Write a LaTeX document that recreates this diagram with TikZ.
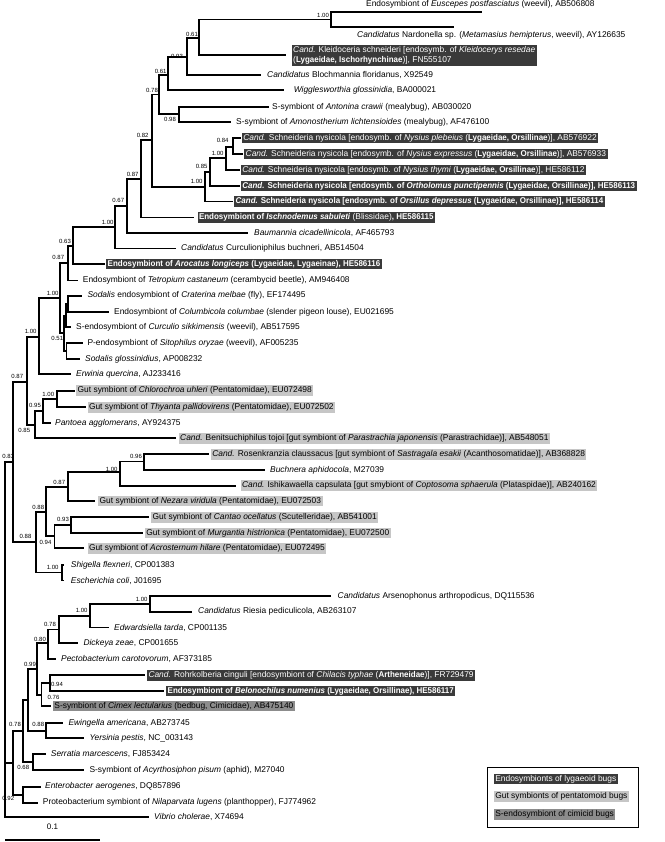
\documentclass[tikz,border=0pt]{standalone}
\usepackage{fontspec}
\setmainfont{Liberation Sans}[BoldFeatures={FakeStretch=0.95},BoldItalicFeatures={FakeStretch=0.95}]
\usetikzlibrary{positioning}
\definecolor{lygbox}{HTML}{3A3A3A}
\definecolor{gutbox}{HTML}{C6C6C6}
\definecolor{cimbox}{HTML}{8C8C8C}

\begin{document}
\begin{tikzpicture}[x=1pt,y=-1pt,
  branch/.style={line width=1.8pt,line cap=rect},
  taxon/.style={anchor=west,inner sep=0pt,font=\fontsize{8.4}{10}\selectfont},
  boxed/.style={taxon,inner xsep=1.5pt,inner ysep=1.2pt,text height=6.3pt,text depth=1.9pt},
  lyg/.style={boxed,fill=lygbox,text=white},
  gut/.style={boxed,fill=gutbox},
  cim/.style={boxed,fill=cimbox},
  supp/.style={inner sep=0pt,font=\fontsize{6}{7}\selectfont}]
  \useasboundingbox (0,0) rectangle (664,842);

  % internal nodes of the tree
  \foreach \n/\x/\y in {root/5/639, n83/13.3/461.7, n87c/27.3/381.7, nSod/39.3/336.7, nA/60/298.3,
      n87b/68.3/263, n63/72.7/246, n100c/115/227.3, n67/126.7/206, n87a/140.7/179, n82/151.7/140,
      n78/159.3/94.5, n61b/168/75, n93/186.7/57, n61a/199.3/38, n100a/331/19.5, n98/179.3/114,
      nSch/205/186.7, n85s/210/171.7, n100s/226/158, n84/232.7/147,
      nS0/64/333, nS2/66/315.7, nS1/67.8/304, nS3/66.5/351,
      n85/35/424.7, n95/43.3/411, n100p/56.7/399,
      n88b/36/542.3, n88a/46/512, n87d/68/487, n100r/120/472, n96/144.3/461.5,
      n94/54.5/536, n93p/71/525, nShE/61.7/572.5,
      nQ/12.7/762.8, n78b/23.3/731, nP/28.3/700, n99/37/669.3, n80/48.3/643.3, n78c/59.3/629.5,
      n100e/90/616, n100ar/150/604, n76/41.5/695, n94b/50/683, n88c/46/730.8, n68/33.3/762, n92/23.3/794.7}
    \coordinate (\n) at (\x,\y);

  % tips
  \foreach \n/\x/\y in {eusc/481/12, nard/453/27, klei/285/55, bloc/259.6/75, wigg/283/90,
      anto/268/107, amon/230/122, plebe/240/138, expr/242/154, thym/239/170, orth/239/186,
      orsi/232/201.5, isch/193/217.5, baum/247/233, curc/175/248.5, aroc/104/264, tetr/77.3/280.5,
      crat/80.7/295.7, colu/108.3/312.3, curl/70/327.3, sito/81.7/343.3, sglo/79/359, erwi/70/374.3,
      chlo/74/390.7, thya/85/407.3, pant/50/423, beni/175/438.3, rose/208.5/454.3, buch/264/470,
      ishi/235/485.7, neza/93.6/501, cant/148.3/517.3, murg/141.7/533, acro/83.3/548.3,
      shig/63.3/565, ecol/63.3/580.5, arse/330/596, ries/191.5/611.7, edwa/108.3/627.5,
      dick/77.3/643.3, pect/55/659, rohr/144/675.3, belo/163.3/691, cime/50/706, ewin/61.7/723.3,
      yers/83.3/738.3, serr/45/754.3, acyr/83.3/770, ente/40/786.7, prot/36.7/802.7, vibr/148.3/816.7}
    \coordinate (\n) at (\x,\y);

  % branches
  \foreach \a/\b in {root/n83, root/nQ, root/vibr, n83/n87c, n83/n88b, n87c/nSod, n87c/n85,
      nSod/nA, nSod/erwi, nA/n87b, nA/nS0, n87b/n63, n87b/tetr, n63/n100c, n63/aroc,
      n100c/n67, n100c/curc, n67/n87a, n67/baum, n87a/n82, n87a/isch, n82/n78, n82/nSch,
      n78/n61b, n78/n98, n61b/n93, n61b/wigg, n93/n61a, n93/bloc, n61a/n100a, n61a/klei,
      n100a/eusc, n100a/nard, n98/anto, n98/amon, nSch/n85s, nSch/orsi, n85s/n100s, n85s/orth,
      n100s/n84, n100s/thym, n84/plebe, n84/expr, nS0/nS2, nS0/nS3, nS2/nS1, nS2/curl,
      nS1/crat, nS1/colu, nS3/sito, nS3/sglo, n85/n95, n85/beni, n95/n100p, n95/pant,
      n100p/chlo, n100p/thya, n88b/n88a, n88b/nShE, n88a/n87d, n88a/n94, n87d/n100r, n87d/neza,
      n100r/n96, n100r/ishi, n96/rose, n96/buch, n94/n93p, n94/acro, n93p/cant, n93p/murg,
      nShE/shig, nShE/ecol, nQ/n78b, nQ/n92, n78b/nP, n78b/n68, nP/n99, nP/n88c,
      n99/n80, n99/n76, n80/n78c, n80/pect, n78c/n100e, n78c/dick, n100e/n100ar, n100e/edwa,
      n100ar/arse, n100ar/ries, n76/n94b, n76/cime, n94b/rohr, n94b/belo,
      n88c/ewin, n88c/yers, n68/serr, n68/acyr, n92/ente, n92/prot}
    \draw[branch] (\a) |- (\b);

  % support values
  \foreach \x/\y/\v [count=\i] in {323/15/1.00, 192/34/0.61, 177/56.7/0.93, 160.7/71/0.61, 152/90/0.78,
      170/119.5/0.98, 142.7/135.7/0.82, 222.7/140.7/0.84, 217.7/153.3/1.00, 201.7/166.7/0.85,
      196.7/181.7/1.00, 132.7/174/0.87, 118.3/200.7/0.67, 107.7/222.3/1.00, 65/241/0.63,
      58.3/257.7/0.87, 52.7/293.3/1.00, 30.7/331.7/1.00, 57.3/338.3/0.51, 17.3/376.7/0.87,
      48.3/394/1.00, 35/405.7/0.95, 24.3/430/0.85, 8.3/456/0.83, 136/456/0.96, 111.7/469/1.00,
      59.3/482.7/0.87, 38.3/507.3/0.88, 63/519.5/0.93, 25.5/536.7/0.88, 45.5/542.7/0.94,
      52.7/567.3/1.00, 141.7/599/1.00, 81.7/610.7/1.00, 50/624.3/0.78, 40/639.3/0.80,
      30/664.3/0.99, 57/684/0.94, 53.5/697.5/0.76, 15/724.3/0.78, 38.3/724.3/0.88,
      23.3/767.7/0.68, 8.3/798/0.92}
    \node[supp] (s\i) at (\x,\y) {\v};

  % taxon labels
  \node[taxon] (l-eusc) at (366,4.5) {Endosymbiont of \textit{Euscepes postfasciatus} (weevil), AB506808};
  \node[taxon] (l-nard) at (357,35) {\textit{Candidatus} Nardonella sp. (\textit{Metamasius hemipterus}, weevil), AY126635};
  \node[taxon,fill=lygbox,text=white,inner sep=1.5pt,align=left] (l-klei) at (291.5,55.5) {\textit{Cand.} Kleidoceria schneideri [endosymb. of \textit{Kleidocerys resedae}\\(\textbf{Lygaeidae, Ischorhynchinae})], FN555107};
  \node[taxon] (l-bloc) at (267,75) {\textit{Candidatus} Blochmannia floridanus, X92549};
  \node[taxon] (l-wigg) at (293.6,90) {\textit{Wigglesworthia glossinidia}, BA000021};
  \node[taxon] (l-anto) at (272,107) {S-symbiont of \textit{Antonina crawii} (mealybug), AB030020};
  \node[taxon] (l-amon) at (236,122) {S-symbiont of \textit{Amonostherium lichtensioides} (mealybug), AF476100};
  \node[lyg] (l-plebe) at (241.7,138) {\textit{Cand.} Schneideria nysicola [endosymb. of \textit{Nysius plebeius} (\textbf{Lygaeidae, Orsillinae})], AB576922};
  \node[lyg] (l-expr) at (244,154) {\textit{Cand.} Schneideria nysicola [endosymb. of \textit{Nysius expressus} (\textbf{Lygaeidae, Orsillinae})], AB576933};
  \node[lyg] (l-thym) at (240.7,170) {\textit{Cand.} Schneideria nysicola [endosymb. of \textit{Nysius thymi} (\textbf{Lygaeidae, Orsillinae})], HE586112};
  \node[lyg] (l-orth) at (240.7,186) {\textbf{\textit{Cand.} Schneideria nysicola [endosymb. of \textit{Ortholomus punctipennis} (Lygaeidae, Orsillinae)], HE586113}};
  \node[lyg] (l-orsi) at (234,201.5) {\textbf{\textit{Cand.} Schneideria nysicola [endosymb. of \textit{Orsillus depressus} (Lygaeidae, Orsillinae)], HE586114}};
  \node[lyg] (l-isch) at (197.3,217.5) {\textbf{Endosymbiont of \textit{Ischnodemus sabuleti}} (Blissidae)\textbf{, HE586115}};
  \node[taxon] (l-baum) at (254,233) {\textit{Baumannia cicadellinicola}, AF465793};
  \node[taxon] (l-curc) at (181,248.5) {\textit{Candidatus} Curculioniphilus buchneri, AB514504};
  \node[lyg] (l-aroc) at (106,264) {\textbf{Endosymbiont of \textit{Arocatus longiceps} (Lygaeidae, Lygaeinae), HE586116}};
  \node[taxon] (l-tetr) at (82.7,280.5) {Endosymbiont of \textit{Tetropium castaneum} (cerambycid beetle), AM946408};
  \node[taxon] (l-crat) at (87.3,295.7) {\textit{Sodalis} endosymbiont of \textit{Craterina melbae} (fly), EF174495};
  \node[taxon] (l-colu) at (114,312.3) {Endosymbiont of \textit{Columbicola columbae} (slender pigeon louse), EU021695};
  \node[taxon] (l-curl) at (76,327.3) {S-endosymbiont of \textit{Curculio sikkimensis} (weevil), AB517595};
  \node[taxon] (l-sito) at (87.3,343.3) {P-endosymbiont of \textit{Sitophilus oryzae} (weevil), AF005235};
  \node[taxon] (l-sglo) at (85,359) {\textit{Sodalis glossinidius}, AP008232};
  \node[taxon] (l-erwi) at (76,374.3) {\textit{Erwinia quercina}, AJ233416};
  \node[gut] (l-chlo) at (76,390.7) {Gut symbiont of \textit{Chlorochroa uhleri} (Pentatomidae), EU072498};
  \node[gut] (l-thya) at (87.3,407.3) {Gut symbiont of \textit{Thyanta pallidovirens} (Pentatomidae), EU072502};
  \node[taxon] (l-pant) at (55,423) {\textit{Pantoea agglomerans}, AY924375};
  \node[gut] (l-beni) at (178.5,438.3) {\textit{Cand.} Benitsuchiphilus tojoi [gut symbiont of \textit{Parastrachia japonensis} (Parastrachidae)], AB548051};
  \node[gut] (l-rose) at (210.6,454.3) {\textit{Cand.} Rosenkranzia claussacus [gut symbiont of \textit{Sastragala esakii} (Acanthosomatidae)], AB368828};
  \node[taxon] (l-buch) at (270,470) {\textit{Buchnera aphidocola}, M27039};
  \node[gut] (l-ishi) at (240.4,485.7) {\textit{Cand.} Ishikawaella capsulata [gut smybiont of \textit{Coptosoma sphaerula} (Plataspidae)], AB240162};
  \node[gut] (l-neza) at (98,501) {Gut symbiont of \textit{Nezara viridula} (Pentatomidae), EU072503};
  \node[gut] (l-cant) at (151,517.3) {Gut symbiont of \textit{Cantao ocellatus} (Scutelleridae), AB541001};
  \node[gut] (l-murg) at (144.7,533) {Gut symbiont of \textit{Murgantia histrionica} (Pentatomidae), EU072500};
  \node[gut] (l-acro) at (87.3,548.3) {Gut symbiont of \textit{Acrosternum hilare} (Pentatomidae), EU072495};
  \node[taxon] (l-shig) at (70.7,565) {\textit{Shigella flexneri}, CP001383};
  \node[taxon] (l-ecol) at (70.7,580.5) {\textit{Escherichia coli}, J01695};
  \node[taxon] (l-arse) at (337.5,596) {\textit{Candidatus} Arsenophonus arthropodicus, DQ115536};
  \node[taxon] (l-ries) at (198,611.7) {\textit{Candidatus} Riesia pediculicola, AB263107};
  \node[taxon] (l-edwa) at (114,627.5) {\textit{Edwardsiella tarda}, CP001135};
  \node[taxon] (l-dick) at (83.3,643.3) {\textit{Dickeya zeae}, CP001655};
  \node[taxon] (l-pect) at (61,659) {\textit{Pectobacterium carotovorum}, AF373185};
  \node[lyg] (l-rohr) at (146.8,675.3) {\textit{Cand.} Rohrkolberia cinguli [endosymbiont of \textit{Chilacis typhae} (\textbf{Artheneidae})], FR729479};
  \node[lyg] (l-belo) at (166,691) {\textbf{Endosymbiont of \textit{Belonochilus numenius} (Lygaeidae, Orsillinae), HE586117}};
  \node[cim] (l-cime) at (52.7,706) {S-symbiont of \textit{Cimex lectularius} (bedbug, Cimicidae), AB475140};
  \node[taxon] (l-ewin) at (68.3,723.3) {\textit{Ewingella americana}, AB273745};
  \node[taxon] (l-yers) at (89.3,738.3) {\textit{Yersinia pestis}, NC\_003143};
  \node[taxon] (l-serr) at (50.7,754.3) {\textit{Serratia marcescens}, FJ853424};
  \node[taxon] (l-acyr) at (89.3,770) {S-symbiont of \textit{Acyrthosiphon pisum} (aphid), M27040};
  \node[taxon] (l-ente) at (45,786.7) {\textit{Enterobacter aerogenes}, DQ857896};
  \node[taxon] (l-prot) at (42.7,802.7) {Proteobacterium symbiont of \textit{Nilaparvata lugens} (planthopper), FJ774962};
  \node[taxon] (l-vibr) at (154,816.7) {\textit{Vibrio cholerae}, X74694};

  % scale bar
  \coordinate (sbl) at (5,840);
  \coordinate (sbr) at (100,840);
  \draw[line width=2.5pt] (sbl) -- (sbr);
  \node[supp,font=\fontsize{8}{9}\selectfont] (sbtxt) at (52.5,827) {0.1};

  % legend
  \node[draw,line width=0.8pt,minimum width=151pt,minimum height=60pt] (legend) at (562.5,797) {};
  \node[lyg] (k-lyg) at (493.6,779) {Endosymbionts of lygaeoid bugs};
  \node[gut] (k-gut) at (493.6,796.7) {Gut symbionts of pentatomoid bugs};
  \node[cim] (k-cim) at (493.6,814.3) {S-endosymbiont of cimicid bugs};
\end{tikzpicture}
\end{document}
